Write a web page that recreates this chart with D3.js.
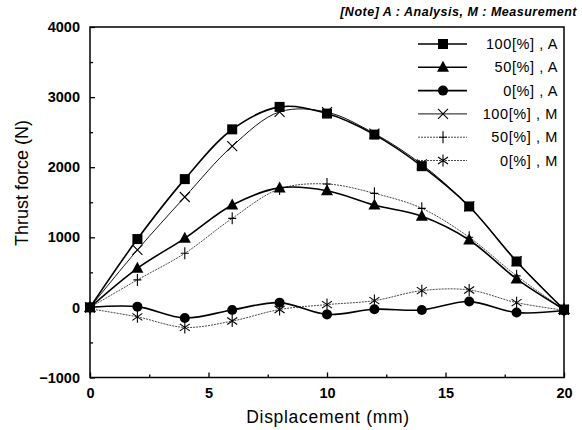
<!DOCTYPE html>
<html><head><meta charset="utf-8">
<script src="https://cdn.jsdelivr.net/npm/d3@7"></script>
<style>body{margin:0;background:#fff}svg{display:block}text{font-family:"Liberation Sans",Arial,sans-serif;fill:#000}</style>
</head><body><svg id="c" width="582" height="430"></svg>
<script>
const xs = [0, 2, 4, 6, 8, 10, 12, 14, 16, 18, 20];
const a100 = [0, 975, 1830, 2540, 2860, 2765, 2465, 2015, 1440, 655, -30];
const a50  = [0, 558, 985, 1460, 1705, 1665, 1460, 1300, 962, 406, -30];
const a0   = [0, 11, -150, -36, 68, -100, -26, -36, 83, -74, -45];
const m100 = [0, 820, 1575, 2300, 2790, 2785, 2480, 2040, 1440, 660, -35];
const m50  = [0, 392, 772, 1270, 1690, 1760, 1627, 1413, 1000, 450, -30];
const m0   = [-20, -135, -285, -195, -30, 40, 97, 239, 249, 68, -40];
const labels = ["100[%] , A", "50[%] , A", "0[%] , A", "100[%] , M", "50[%] , M", "0[%] , M"];
const yTicks = [-1000, 0, 1000, 2000, 3000, 4000];
const xTicks = [0, 5, 10, 15, 20];

const series = [
  {v: a100, m: "square", w: 1.6, c: "#000", d: null},
  {v: a50, m: "triangle", w: 1.6, c: "#000", d: null},
  {v: a0, m: "circle", w: 1.6, c: "#000", d: null},
  {v: m100, m: "cross", w: 1.0, c: "#111", d: null},
  {v: m50, m: "plus", w: 0.9, c: "#333", d: "2,1"},
  {v: m0, m: "star", w: 0.9, c: "#333", d: "2,1"}
];

const svg = d3.select("#c");
const L = 90, R = 564, T = 27, B = 377.5;
const x = d3.scaleLinear().domain([0, 20]).range([L, R]);
const y = d3.scaleLinear().domain([-1000, 4000]).range([B, T]);

svg.append("rect").attr("x", L).attr("y", T).attr("width", R - L).attr("height", B - T)
  .attr("fill", "none").attr("stroke", "#000").attr("stroke-width", 1.5);

const gy = svg.append("g").attr("transform", `translate(${L},0)`)
  .call(d3.axisLeft(y).tickValues(yTicks).tickSize(-5).tickPadding(10).tickFormat(d3.format("d")));
const gyMinor = svg.append("g").attr("transform", `translate(${L},0)`)
  .call(d3.axisLeft(y).tickValues(d3.range(-500, 4000, 1000)).tickSize(-3).tickFormat(""));
const gx = svg.append("g").attr("transform", `translate(0,${B})`)
  .call(d3.axisBottom(x).tickValues(xTicks).tickSize(-5).tickPadding(10));
const gxMinor = svg.append("g").attr("transform", `translate(0,${B})`)
  .call(d3.axisBottom(x).tickValues([2.5, 7.5, 12.5, 17.5]).tickSize(-3).tickFormat(""));
[gy, gyMinor, gx, gxMinor].forEach(g => {
  g.select(".domain").remove();
  g.selectAll("line").attr("stroke", "#000").attr("stroke-width", 1.3);
  g.selectAll("text").attr("font-size", 14.5).attr("font-weight", "bold").style("font-family", "'Liberation Sans',Arial,sans-serif");
});

svg.append("text").attr("x", 328).attr("y", 423).attr("text-anchor", "middle")
  .attr("font-size", 17.5).attr("letter-spacing", 0.7).text("Displacement (mm)");
svg.append("text").attr("transform", "translate(28,183) rotate(-90)").attr("text-anchor", "middle")
  .attr("font-size", 18).text("Thrust force (N)");

svg.append("text").attr("x", 577).attr("y", 16).attr("text-anchor", "end")
  .attr("font-size", 12.5).attr("font-style", "italic").attr("font-weight", "bold").attr("letter-spacing", 0.5)
  .text("[Note] A : Analysis, M : Measurement");

function drawMarker(g, type, cx, cy, color) {
  if (type === "square") g.append("rect").attr("x", cx - 5).attr("y", cy - 5).attr("width", 10).attr("height", 10).attr("fill", "#000");
  else if (type === "triangle") g.append("path").attr("d", `M${cx},${cy - 6.5}L${cx + 6},${cy + 4.5}L${cx - 6},${cy + 4.5}Z`).attr("fill", "#000");
  else if (type === "circle") g.append("circle").attr("cx", cx).attr("cy", cy).attr("r", 5).attr("fill", "#000");
  else if (type === "cross") g.append("path").attr("d", `M${cx - 5},${cy - 5}L${cx + 5},${cy + 5}M${cx - 5},${cy + 5}L${cx + 5},${cy - 5}`).attr("stroke", "#000").attr("stroke-width", 1.1);
  else if (type === "plus") g.append("path").attr("d", `M${cx},${cy - 6}L${cx},${cy + 6}M${cx - 4},${cy}L${cx + 4},${cy}`).attr("stroke", "#000").attr("stroke-width", 1.1);
  else if (type === "star") g.append("path").attr("d", `M${cx},${cy - 6}L${cx},${cy + 6}M${cx - 5},${cy - 3.5}L${cx + 5},${cy + 3.5}M${cx - 5},${cy + 3.5}L${cx + 5},${cy - 3.5}`).attr("stroke", "#000").attr("stroke-width", 1.1);
}

const line = d3.line().x((d, i) => x(xs[i])).y(d => y(d)).curve(d3.curveCatmullRom.alpha(0.5));
const plot = svg.append("g");
series.slice().reverse().forEach(s => {
  plot.append("path").attr("d", line(s.v)).attr("fill", "none").attr("stroke", s.c)
    .attr("stroke-width", s.w).attr("stroke-dasharray", s.d);
  const mg = plot.append("g");
  s.v.forEach((v, i) => drawMarker(mg, s.m, x(xs[i]), y(v), s.c));
});

const lg = svg.append("g");
series.forEach((s, i) => {
  const ly = 44 + i * 23.3;
  lg.append("line").attr("x1", 418).attr("x2", 467).attr("y1", ly).attr("y2", ly)
    .attr("stroke", s.c).attr("stroke-width", s.w).attr("stroke-dasharray", s.d);
  drawMarker(lg, s.m, 443, ly, s.c);
  lg.append("text").attr("x", 558).attr("y", ly + 5).attr("text-anchor", "end")
    .attr("font-size", 14.5).attr("letter-spacing", 0.6).text(labels[i]);
});
</script></body></html>
